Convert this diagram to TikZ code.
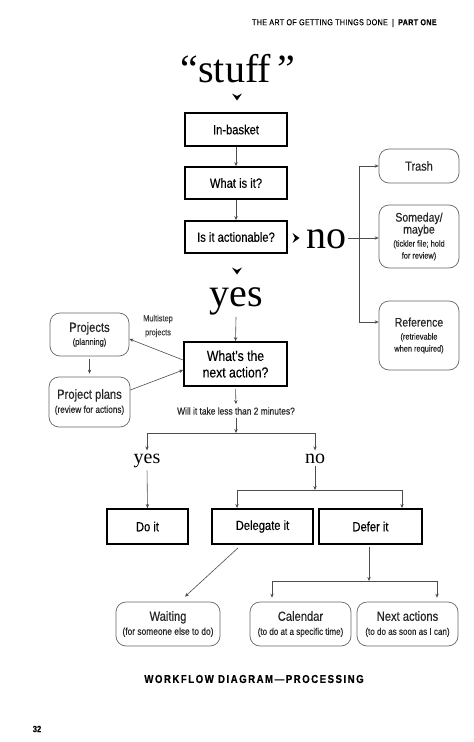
\documentclass[tikz,border=0pt]{standalone}
\usepackage{fontspec}
\newfontfamily\cond{Liberation Sans}[FakeStretch=0.84,FakeBold=0.3]
\newfontfamily\dserif{Liberation Serif}
\usetikzlibrary{arrows.meta}
\tikzset{
  sq/.style={draw=black, line width=1.8pt, inner sep=0pt, align=center,
    font=\cond\fontsize{13.3}{15}\selectfont},
  rb/.style={draw=black!60, line width=0.7pt, rounded corners=10pt, inner sep=0pt,
    align=center, text=black!85},
  ln/.style={draw=black!70, line width=0.6pt},
  arr/.style={ln, -{Stealth[length=4pt,width=3.4pt]}},
  serifbig/.style={inner sep=0pt, font=\dserif\fontsize{40}{40}\selectfont},
  serifsm/.style={inner sep=0pt, font=\dserif\fontsize{20}{20}\selectfont},
  plain/.style={inner sep=0pt, align=center, text=black!85}
}
\begin{document}
\begin{tikzpicture}[x=1pt,y=-1pt]
\useasboundingbox[fill=white] (0,0) rectangle (474,742);

% header
\node[plain, text=black, font=\cond\fontsize{8.5}{10}\selectfont\addfontfeature{LetterSpace=4}] (hdr) at (344.5,23)
  {THE ART OF GETTING THINGS DONE\enspace|\enspace\textbf{PART ONE}};

% stuff
\node[serifbig, anchor=base] (stuff) at (238,82) {“stuff\,”};
\coordinate (chv1) at (237,97);
\fill[shift={(chv1)}] (-5,-3.5) -- (0,3.5) -- (5,-3.5) -- (0,-1) -- cycle;

% main column
\node[sq, minimum width=102pt, minimum height=33pt] (inb) at (236,129.5) {In-basket};
\node[sq, minimum width=102pt, minimum height=32pt] (what) at (236,183) {What is it?};
\node[sq, minimum width=102pt, minimum height=32pt] (act) at (236,237) {Is it actionable?};
\draw[arr] (inb) -- (what);
\draw[arr] (what) -- (act);

% no branch
\coordinate (chvno) at (296,238);
\fill[shift={(chvno)}] (-3.5,-5) -- (3.5,0) -- (-3.5,5) -- (-1,0) -- cycle;
\node[serifbig, anchor=base west] (nobig) at (306,248) {no};
\coordinate (nb) at (359,238);

\node[rb, minimum width=80pt, minimum height=34pt] (trash) at (419,166)
  {\cond\fontsize{13}{15}\selectfont Trash};
\node[rb, minimum width=80pt, minimum height=63pt] (some) at (419,236.5)
  {{\cond\fontsize{12.5}{13}\selectfont Someday/}\\{\cond\fontsize{12.5}{13}\selectfont maybe}\\[1pt]
   {\cond\fontsize{8.8}{11}\selectfont (tickler file; hold}\\{\cond\fontsize{8.8}{11}\selectfont for review)}};
\node[rb, minimum width=80pt, minimum height=69pt] (ref) at (419,335.5)
  {{\cond\fontsize{12.5}{14}\selectfont Reference}\\[1pt]
   {\cond\fontsize{8.8}{11}\selectfont (retrievable}\\{\cond\fontsize{8.8}{11}\selectfont when required)}};
\draw[arr] (nobig.east |- nb) ++(2,0) -- (some.west |- nb);
\draw[arr] (nb) |- (trash.west);
\draw[arr] (nb) |- ([yshift=13.5pt]ref.west);

% yes branch
\coordinate (chvyes) at (237,271);
\fill[shift={(chvyes)}] (-5,-3.5) -- (0,3.5) -- (5,-3.5) -- (0,-1) -- cycle;
\node[serifbig, anchor=base] (yesbig) at (236,306) {yes};

\node[sq, minimum width=103pt, minimum height=44pt, font=\cond\fontsize{14.5}{16.5}\selectfont] (next) at (235.5,364)
  {What's the\\next action?};
\draw[arr] (236,317) -- (next.north);

\node[rb, minimum width=79pt, minimum height=43pt] (proj) at (89.5,334.5)
  {{\cond\fontsize{13.3}{15}\selectfont Projects}\\[1pt]{\cond\fontsize{9}{10}\selectfont (planning)}};
\node[rb, minimum width=81pt, minimum height=50pt] (plans) at (89.5,402)
  {{\cond\fontsize{13.3}{15}\selectfont Project plans}\\[2pt]{\cond\fontsize{9.8}{10}\selectfont (review for actions)}};
\draw[arr, shorten <=3pt, shorten >=3pt] (proj) -- (plans);
\node[plain, font=\cond\fontsize{8.8}{14}\selectfont, text=black!75] (multi) at (158,326) {Multistep\\projects};
\draw[arr] (next.west |- 0,360) -- (proj.east |- 0,339);
\draw[arr] (plans.east |- 0,390) -- (next.west |- 0,370);

\node[plain, font=\cond\fontsize{10}{11}\selectfont] (will) at (236,411) {Will it take less than 2 minutes?};
\draw[arr, shorten <=2pt, shorten >=3pt] (next.south) -- (will.north);
\coordinate (b1) at (236,433);
\draw[arr, shorten <=3pt] (will.south) -- (b1);

\node[serifsm, anchor=base] (yessm) at (147,463) {yes};
\node[serifsm, anchor=base] (nosm) at (315,463) {no};
\draw[arr, shorten >=3pt] (b1) -| (yessm.north);
\draw[arr, shorten >=3pt] (b1) -| (nosm.north);

\node[sq, minimum width=81pt, minimum height=35pt] (doit) at (147.5,526.5) {Do it};
\node[sq, minimum width=101pt, minimum height=35pt] (dele) at (262.5,526.5) {Delegate it};
\node[sq, minimum width=103pt, minimum height=35pt] (defer) at (370.5,526.5) {Defer it};
\draw[arr, shorten <=3pt] (yessm.south) -- (doit.north);
\coordinate (b2) at (315,490);
\draw[arr, shorten <=3pt] (nosm.south) -- (b2);
\draw[arr] (b2) -| (237,508);
\draw[arr] (b2) -| (402,508);

\node[rb, minimum width=104pt, minimum height=44pt] (wait) at (168,624)
  {{\cond\fontsize{13.3}{15}\selectfont Waiting}\\[2pt]{\cond\fontsize{10}{11}\selectfont (for someone else to do)}};
\node[rb, minimum width=101pt, minimum height=44pt] (cal) at (300.5,624)
  {{\cond\fontsize{13.3}{15}\selectfont Calendar}\\[2pt]{\cond\fontsize{9.6}{11}\selectfont (to do at a specific time)}};
\node[rb, minimum width=101pt, minimum height=44pt] (nexta) at (407.5,624)
  {{\cond\fontsize{13.3}{15}\selectfont Next actions}\\[2pt]{\cond\fontsize{9.6}{11}\selectfont (to do as soon as I can)}};
\draw[arr] ([yshift=-3pt]dele.south -| 238,0) -- ([xshift=17pt,yshift=5pt]wait.north);
\coordinate (b3) at (369,581);
\draw[arr, shorten <=2pt] (defer.south -| b3) -- (b3);
\draw[arr, shorten >=4pt] (b3) -| (cal.north -| 272,0);
\draw[arr, shorten >=4pt] (b3) -| (nexta.north -| 437,0);

% caption
\node[plain, text=black, font=\cond\bfseries\fontsize{11.5}{12}\selectfont\addfontfeature{LetterSpace=13}] (cap) at (254,679)
  {WORKFLOW DIAGRAM—PROCESSING};
\node[plain, text=black, font=\cond\bfseries\fontsize{9}{10}\selectfont] (page) at (37,729) {32};
\end{tikzpicture}
\end{document}
